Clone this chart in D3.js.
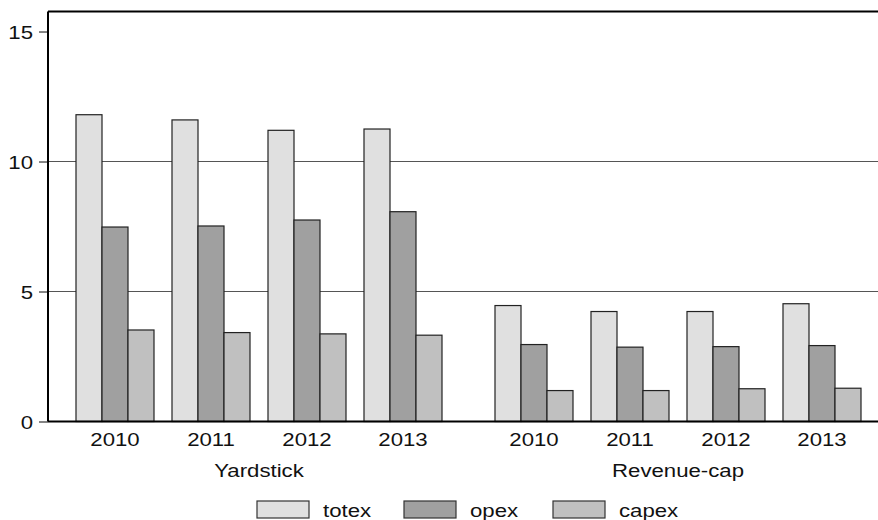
<!DOCTYPE html>
<html lang="en">
<head>
<meta charset="UTF-8">
<title>Yardstick vs Revenue-cap</title>
<script src="https://d3js.org/d3.v7.min.js"></script>
<style>
	body{margin:0;background:#fff}
	text{font-family:"Liberation Sans",Arial,sans-serif;fill:#111}
</style>
</head>
<body>
<svg id="chart" width="878" height="520"></svg>
<script>
// data
var regimes = ["Yardstick", "Revenue-cap"]
var years = ["2010", "2011", "2012", "2013"]
var series = ["totex", "opex", "capex"]
var colors = ["#e0e0e0", "#a0a0a0", "#c0c0c0"]
var yTicks = [0, 5, 10, 15]

var totex = [[11.8, 11.6, 11.2, 11.25], [4.46, 4.23, 4.23, 4.53]]
var opex  = [[7.48, 7.52, 7.75, 8.07], [2.96, 2.86, 2.88, 2.92]]
var capex = [[3.52, 3.42, 3.37, 3.32], [1.19, 1.19, 1.26, 1.28]]

var values = {totex: totex, opex: opex, capex: capex}

var svg = d3.select("#chart")
var pLeft = 48, pRight = 878, pTop = 11.5, pBottom = 421.5

var y = d3.scaleLinear().domain([0, 15.77]).range([pBottom, pTop])
var xRegime = d3.scaleBand().domain(regimes).range([67, 870]).paddingInner(35/419)
var xYear = d3.scaleBand().domain(years).range([0, xRegime.bandwidth()]).paddingInner(18/96).paddingOuter(9/96)
var xSer = d3.scaleBand().domain(series).range([0, xYear.bandwidth()])

// gridlines
svg.append("g").selectAll("line").data([5, 10]).enter().append("line")
	.attr("x1", pLeft).attr("x2", pRight)
	.attr("y1", function(d){return y(d)}).attr("y2", function(d){return y(d)})
	.attr("stroke", "#555").attr("stroke-width", 1.2)

// bars
var rows = []
regimes.forEach(function(r, ri){
	years.forEach(function(yr, yi){
		series.forEach(function(s, si){
			rows.push({r: r, yr: yr, s: s, si: si, v: values[s][ri][yi]})
		})
	})
})
svg.append("g").selectAll("rect").data(rows).enter().append("rect")
	.attr("x", function(d){return xRegime(d.r) + xYear(d.yr) + xSer(d.s)})
	.attr("width", xSer.bandwidth())
	.attr("y", function(d){return y(d.v)})
	.attr("height", function(d){return pBottom - y(d.v)})
	.attr("fill", function(d){return colors[d.si]})
	.attr("stroke", "#222").attr("stroke-width", 1.2)

// frame
svg.append("line").attr("x1", pLeft).attr("x2", pRight).attr("y1", pTop).attr("y2", pTop)
	.attr("stroke", "#000").attr("stroke-width", 2)
svg.append("line").attr("x1", pLeft).attr("x2", pRight).attr("y1", pBottom).attr("y2", pBottom)
	.attr("stroke", "#000").attr("stroke-width", 2.2)

// y axis
var yAxis = svg.append("g").attr("transform", "translate(" + pLeft + ",0)")
	.call(d3.axisLeft(y).tickValues(yTicks).tickSize(9).tickPadding(6).tickFormat(d3.format("d")))
yAxis.select(".domain").remove()
yAxis.append("line").attr("x1", 0).attr("x2", 0).attr("y1", pTop).attr("y2", pBottom)
	.attr("stroke", "#000").attr("stroke-width", 2)
yAxis.selectAll(".tick line").attr("stroke", "#333").attr("stroke-width", 1.2)
yAxis.selectAll(".tick text").attr("font-size", 18.5).attr("fill", "#111")
	.attr("font-family", "Liberation Sans, Arial, sans-serif")
	.attr("transform", "scale(1.2,1)").attr("x", -12.5).attr("dy", "0.36em")

// x labels (years + regimes)
regimes.forEach(function(r){
	var g = svg.append("g").attr("transform", "translate(" + xRegime(r) + "," + pBottom + ")")
		.call(d3.axisBottom(xYear).tickSize(0).tickPadding(0))
	g.select(".domain").remove()
	g.selectAll(".tick text").attr("font-size", 18.5).attr("fill", "#111")
		.attr("font-family", "Liberation Sans, Arial, sans-serif")
		.attr("transform", "scale(1.2,1)").attr("y", 25).attr("dy", 0)
	svg.append("text")
		.attr("transform", "translate(" + (xRegime(r) + xRegime.bandwidth() / 2) + ",477) scale(1.2,1)")
		.attr("text-anchor", "middle").attr("font-size", 18.5)
		.text(r)
})

// legend
var legX = [257, 404, 553]
var leg = svg.append("g").selectAll("g").data(series).enter().append("g")
	.attr("transform", function(d, i){return "translate(" + legX[i] + ",501)"})
leg.append("rect").attr("width", 52).attr("height", 17)
	.attr("fill", function(d, i){return colors[i]})
	.attr("stroke", "#333").attr("stroke-width", 1.2)
leg.append("text").attr("transform", "translate(66,16) scale(1.2,1)")
	.attr("font-size", 18.5).text(function(d){return d})
</script>
</body>
</html>
